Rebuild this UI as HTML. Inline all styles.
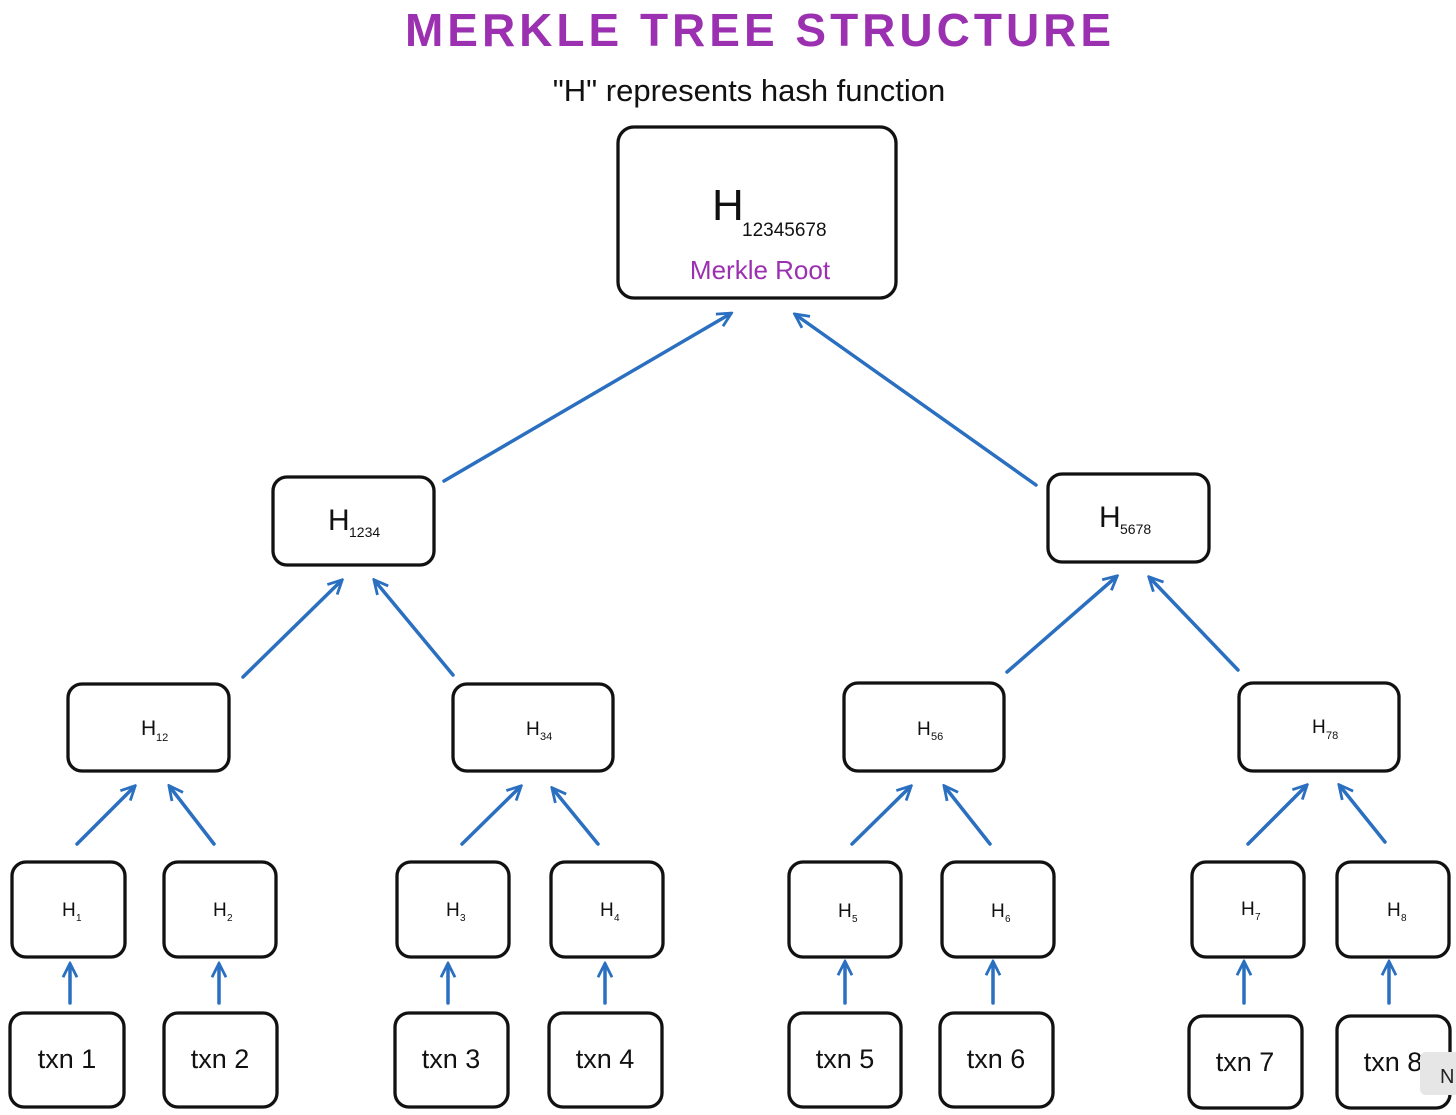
<!DOCTYPE html>
<html><head><meta charset="utf-8"><style>
html,body{margin:0;padding:0;background:#fff;}
svg{display:block;}
text{font-family:"Liberation Sans",sans-serif;}
</style></head><body>
<svg width="1456" height="1115" viewBox="0 0 1456 1115" xmlns="http://www.w3.org/2000/svg">
<defs>
<marker id="a" viewBox="0 0 10 10" refX="8" refY="5" markerWidth="5" markerHeight="5" orient="auto-start-reverse" markerUnits="strokeWidth">
<path d="M1,1 L9,5 L1,9" fill="none" stroke="#2a6fc0" stroke-width="1.6"/>
</marker>
</defs>
<text x="760" y="46" text-anchor="middle" font-size="46" font-weight="bold" fill="#9b30b0" letter-spacing="4">MERKLE TREE STRUCTURE</text>
<text x="749" y="101" text-anchor="middle" font-size="31" fill="#111">"H" represents hash function</text>

<g fill="none" stroke="#111" stroke-width="3.3">
<rect x="618" y="127" width="278" height="171" rx="16"/>
<rect x="273" y="477" width="161" height="88" rx="14"/>
<rect x="1048" y="474" width="161" height="88" rx="14"/>
<rect x="68" y="684" width="161" height="87" rx="14"/>
<rect x="453" y="684" width="160" height="87" rx="14"/>
<rect x="844" y="683" width="160" height="88" rx="14"/>
<rect x="1239" y="683" width="160" height="88" rx="14"/>
<rect x="12" y="862" width="113" height="95" rx="14"/>
<rect x="164" y="862" width="112" height="95" rx="14"/>
<rect x="397" y="862" width="112" height="95" rx="14"/>
<rect x="551" y="862" width="112" height="95" rx="14"/>
<rect x="789" y="862" width="112" height="95" rx="14"/>
<rect x="942" y="862" width="112" height="95" rx="14"/>
<rect x="1192" y="862" width="112" height="95" rx="14"/>
<rect x="1337" y="862" width="112" height="95" rx="14"/>
<rect x="10" y="1013" width="114" height="94" rx="14"/>
<rect x="164" y="1013" width="113" height="94" rx="14"/>
<rect x="395" y="1013" width="113" height="94" rx="14"/>
<rect x="549" y="1013" width="113" height="94" rx="14"/>
<rect x="789" y="1013" width="112" height="94" rx="14"/>
<rect x="940" y="1013" width="113" height="94" rx="14"/>
<rect x="1189" y="1016" width="113" height="92" rx="14"/>
<rect x="1337" y="1016" width="113" height="92" rx="14"/>
</g>

<g stroke="#2a6fc0" stroke-width="3.5" stroke-linecap="round" marker-end="url(#a)">
<line x1="444" y1="481" x2="730" y2="314"/>
<line x1="1036" y1="485" x2="796" y2="315"/>
<line x1="243" y1="677" x2="341" y2="581"/>
<line x1="453" y1="675" x2="375" y2="581"/>
<line x1="1007" y1="672" x2="1116" y2="577"/>
<line x1="1238" y1="670" x2="1150" y2="578"/>
<line x1="77" y1="844" x2="134" y2="787"/>
<line x1="214" y1="844" x2="170" y2="787"/>
<line x1="462" y1="844" x2="520" y2="787"/>
<line x1="598" y1="844" x2="553" y2="789"/>
<line x1="852" y1="844" x2="910" y2="787"/>
<line x1="990" y1="844" x2="945" y2="787"/>
<line x1="1248" y1="844" x2="1306" y2="786"/>
<line x1="1385" y1="842" x2="1340" y2="786"/>
<line x1="70" y1="1003" x2="70" y2="965"/>
<line x1="219" y1="1003" x2="219" y2="965"/>
<line x1="448" y1="1003" x2="448" y2="965"/>
<line x1="605" y1="1003" x2="605" y2="965"/>
<line x1="845" y1="1003" x2="845" y2="963"/>
<line x1="993" y1="1003" x2="993" y2="963"/>
<line x1="1244" y1="1003" x2="1244" y2="963"/>
<line x1="1389" y1="1003" x2="1389" y2="963"/>
</g>

<g fill="#111">
<text x="712" y="220" font-size="44">H</text>
<text x="742" y="236" font-size="19">12345678</text>
<text x="760" y="279" text-anchor="middle" font-size="26" fill="#9b30b0">Merkle Root</text>
<text x="328" y="530" font-size="30">H</text><text x="349" y="537" font-size="14">1234</text>
<text x="1099" y="527" font-size="30">H</text><text x="1120" y="534" font-size="14">5678</text>
<text x="141" y="735" font-size="21">H</text><text x="156" y="741" font-size="11">12</text>
<text x="526" y="735" font-size="19">H</text><text x="540" y="740" font-size="11">34</text>
<text x="917" y="735" font-size="19">H</text><text x="931" y="740" font-size="11">56</text>
<text x="1312" y="733" font-size="19">H</text><text x="1326" y="739" font-size="11">78</text>
<text x="62" y="916" font-size="19">H</text><text x="76" y="921" font-size="10">1</text>
<text x="213" y="916" font-size="19">H</text><text x="227" y="921" font-size="10">2</text>
<text x="446" y="916" font-size="19">H</text><text x="460" y="921" font-size="10">3</text>
<text x="600" y="916" font-size="19">H</text><text x="614" y="921" font-size="10">4</text>
<text x="838" y="917" font-size="19">H</text><text x="852" y="922" font-size="10">5</text>
<text x="991" y="917" font-size="19">H</text><text x="1005" y="922" font-size="10">6</text>
<text x="1241" y="915" font-size="19">H</text><text x="1255" y="920" font-size="10">7</text>
<text x="1387" y="916" font-size="19">H</text><text x="1401" y="921" font-size="10">8</text>
<g font-size="27" text-anchor="middle">
<text x="67" y="1068">txn 1</text>
<text x="220" y="1068">txn 2</text>
<text x="451" y="1068">txn 3</text>
<text x="605" y="1068">txn 4</text>
<text x="845" y="1068">txn 5</text>
<text x="996" y="1068">txn 6</text>
<text x="1245" y="1071">txn 7</text>
<text x="1393" y="1071">txn 8</text>
</g>
</g>
<rect x="1420" y="1052" width="40" height="43" rx="6" fill="#e6e6e6"/>
<text x="1440" y="1083" font-size="20" fill="#222">N</text>
</svg>
</body></html>
